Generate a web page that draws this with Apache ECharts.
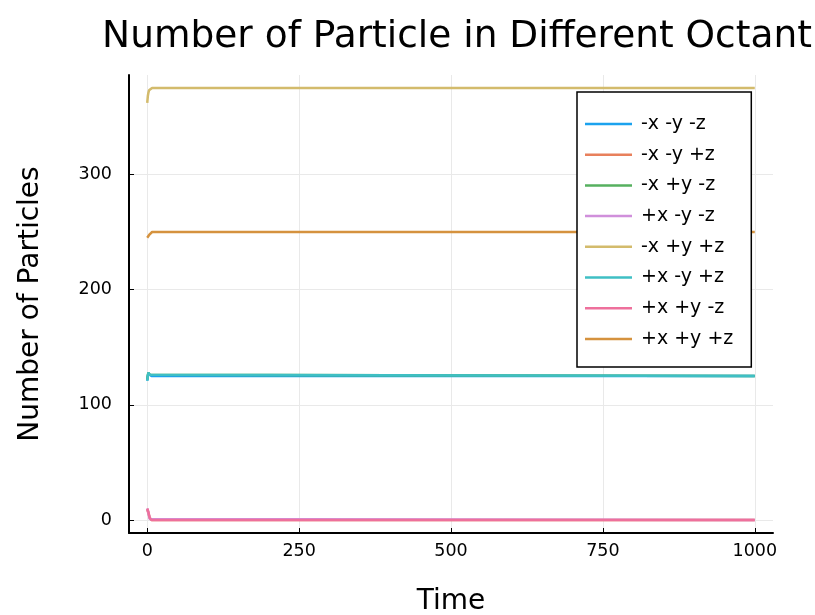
<!DOCTYPE html>
<html><head><meta charset="utf-8">
<script src="https://cdn.jsdelivr.net/npm/echarts@6/dist/echarts.min.js"></script>
<style>html,body{margin:0;padding:0;background:#fff}#c{width:815px;height:615px}</style>
</head><body><div id="c"></div>
<script>
const seriesNames = ['-x -y -z','-x -y +z','-x +y -z','+x -y -z','-x +y +z','+x -y +z','+x +y -z','+x +y +z'];
const colors = ['#1ba2ee','#e8805c','#56b05f','#d08fdb','#d3bb6c','#3fbfc4','#ee709c','#d5923e'];
// [time, count] pairs per series
const sNegNegNeg = [[0,121],[1,125],[2,127],[4,126],[7,125],[1000,125]];
const sNegNegPos = [[0,9],[1,8],[2,6],[4,2],[7,0],[1000,0]];
const sNegPosNeg = [[0,122],[1,126],[2,128],[4,126],[7,125],[1000,125]];
const sPosNegNeg = [[0,10],[1,9],[2,6],[4,1],[7,0],[1000,0]];
const sNegPosPos = [[0,362],[1,368],[2,371],[3,373],[5,374.5],[8,375],[1000,375]];
const sPosNegPos = [[0,121],[1,125],[2,128],[4,126],[7,125],[1000,125]];
const sPosPosNeg = [[0,10],[1,9],[2,7],[4,2],[7,0],[1000,0]];
const sPosPosPos = [[0,245],[2,246],[4,248],[8,250],[1000,250]];
const allData = [sNegNegNeg,sNegNegPos,sNegPosNeg,sPosNegNeg,sNegPosPos,sPosNegPos,sPosPosNeg,sPosPosPos];
const xTicks = [0,250,500,750,1000];
const yTicks = [0,100,200,300];

const font = 'DejaVu Sans';
const chart = echarts.init(document.getElementById('c'), null, {renderer:'canvas'});
chart.setOption({
  animation:false,
  backgroundColor:'#fff',
  title:{text:'Number of Particle in Different Octant', left:452, top:13, textAlign:'center',
    textStyle:{fontFamily:font, fontSize:37.5, fontWeight:'normal', color:'#000'}},
  grid:{left:129, right:42, top:75, bottom:82, outerBoundsMode:'none', containLabel:false},
  legend:{orient:'vertical', left:577, top:92, icon:'rect', itemWidth:47, itemHeight:2.5, itemGap:10.7,
    padding:[22,18,18,8], backgroundColor:'#fff', borderColor:'#000', borderWidth:1.5, borderRadius:0,
    textStyle:{fontFamily:font, fontSize:19, lineHeight:20, color:'#000', padding:[0,0,0,4]}, data:seriesNames},
  xAxis:{type:'value', min:-30, max:1030, name:'Time', nameLocation:'middle', nameGap:55,
    nameTextStyle:{fontFamily:font, fontSize:28, color:'#000'},
    axisLine:{show:true, onZero:false, lineStyle:{color:'#000', width:2}},
    axisTick:{show:true, inside:true, length:5, customValues:xTicks, lineStyle:{color:'#000'}},
    axisLabel:{customValues:xTicks, formatter:v=>String(v), fontFamily:font, fontSize:17.5, color:'#000', margin:9},
    splitLine:{show:true, lineStyle:{color:'#e9e9e9', width:1}}},
  yAxis:{type:'value', min:-11.25, max:386.25, name:'Number of Particles', nameLocation:'middle', nameGap:84,
    nameTextStyle:{fontFamily:font, fontSize:28, color:'#000'},
    axisLine:{show:true, onZero:false, lineStyle:{color:'#000', width:2}},
    axisTick:{show:true, inside:true, length:5, customValues:yTicks, lineStyle:{color:'#000'}},
    axisLabel:{customValues:yTicks, formatter:v=>String(v), fontFamily:font, fontSize:17.5, color:'#000', margin:17},
    splitLine:{show:true, lineStyle:{color:'#e9e9e9', width:1}}},
  series: seriesNames.map((n,i)=>({name:n, type:'line', data:allData[i], symbol:'none', smooth:false,
    color:colors[i], lineStyle:{width:2.5, color:colors[i]}}))
});
</script></body></html>
